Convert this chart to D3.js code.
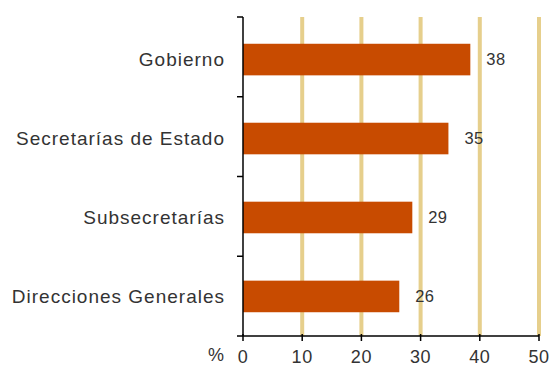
<!DOCTYPE html>
<html><head><meta charset="utf-8">
<script src="https://cdn.jsdelivr.net/npm/d3@7"></script>
<style>body{margin:0;background:#fff}svg{display:block}</style>
</head><body>
<svg id="c" width="551" height="369"></svg>
<script>
const categories = ["Gobierno", "Secretarías de Estado", "Subsecretarías", "Direcciones Generales"];
const values = [38.4, 34.7, 28.6, 26.4];
const valueLabels = ["38", "35", "29", "26"];
const xTicks = [0, 10, 20, 30, 40, 50];
const unitLabel = "%";

(function () {
const svg = d3.select("#c");
const mL = 243, mR = 539, mT = 17, mB = 336;
const x = d3.scaleLinear().domain([0, 50]).range([mL, mR]);
const y = d3.scaleBand().domain(categories).range([mT, mB]).paddingInner(0.6).paddingOuter(0.32);
const font = "'Liberation Sans', Arial, sans-serif";

// gridlines
svg.append("g").selectAll("line").data(xTicks.filter(d => d > 0)).join("line")
  .attr("x1", d => x(d)).attr("x2", d => x(d)).attr("y1", mT).attr("y2", mB)
  .attr("stroke", "#e6cf8c").attr("stroke-width", 4);

// bars
svg.append("g").selectAll("rect").data(categories).join("rect")
  .attr("x", mL).attr("y", d => y(d) + 1.5)
  .attr("width", (d, i) => x(values[i]) - mL).attr("height", y.bandwidth())
  .attr("fill", "#c84b00");

// value labels
svg.append("g").selectAll("text").data(categories).join("text")
  .attr("x", (d, i) => x(values[i]) + 16).attr("y", d => y(d) + 1.5 + y.bandwidth() / 2)
  .attr("dy", "0.36em").attr("font-family", font).attr("font-size", 16.5).attr("letter-spacing", 0.4)
  .attr("fill", "#333").text((d, i) => valueLabels[i]);

// y axis
const yTickPos = d3.range(categories.length + 1).map(i => mT + i * (mB - mT) / categories.length);
const ya = svg.append("g");
ya.append("line").attr("x1", mL).attr("x2", mL).attr("y1", mT).attr("y2", mB).attr("stroke", "#000").attr("stroke-width", 1.5);
ya.selectAll("line.t").data(yTickPos).join("line").attr("class", "t")
  .attr("x1", mL - 6).attr("x2", mL).attr("y1", d => d).attr("y2", d => d).attr("stroke", "#000").attr("stroke-width", 1.5);
ya.selectAll("text").data(categories).join("text")
  .attr("x", 225).attr("y", d => y(d) + y.bandwidth() / 2 + 1.5).attr("dy", "0.36em")
  .attr("text-anchor", "end").attr("font-family", font).attr("font-size", 19).attr("letter-spacing", 1)
  .attr("fill", "#333").text(d => d);

// x axis
const xa = svg.append("g");
xa.append("line").attr("x1", mL).attr("x2", mR).attr("y1", mB).attr("y2", mB).attr("stroke", "#000").attr("stroke-width", 1.5);
xa.selectAll("line.t").data(xTicks).join("line").attr("class", "t")
  .attr("x1", d => x(d)).attr("x2", d => x(d)).attr("y1", mB - 2).attr("y2", mB + 5).attr("stroke", "#000").attr("stroke-width", 1.5);
xa.selectAll("text").data(xTicks).join("text")
  .attr("x", d => x(d)).attr("y", 357).attr("dy", "0.36em").attr("text-anchor", "middle")
  .attr("font-family", font).attr("font-size", 18).attr("letter-spacing", 0.6)
  .attr("fill", "#333").text(d => d);
xa.append("text").attr("x", 216).attr("y", 355).attr("dy", "0.36em").attr("text-anchor", "middle")
  .attr("font-family", font).attr("font-size", 18).attr("fill", "#333").text(unitLabel);
})();
</script>
</body></html>
